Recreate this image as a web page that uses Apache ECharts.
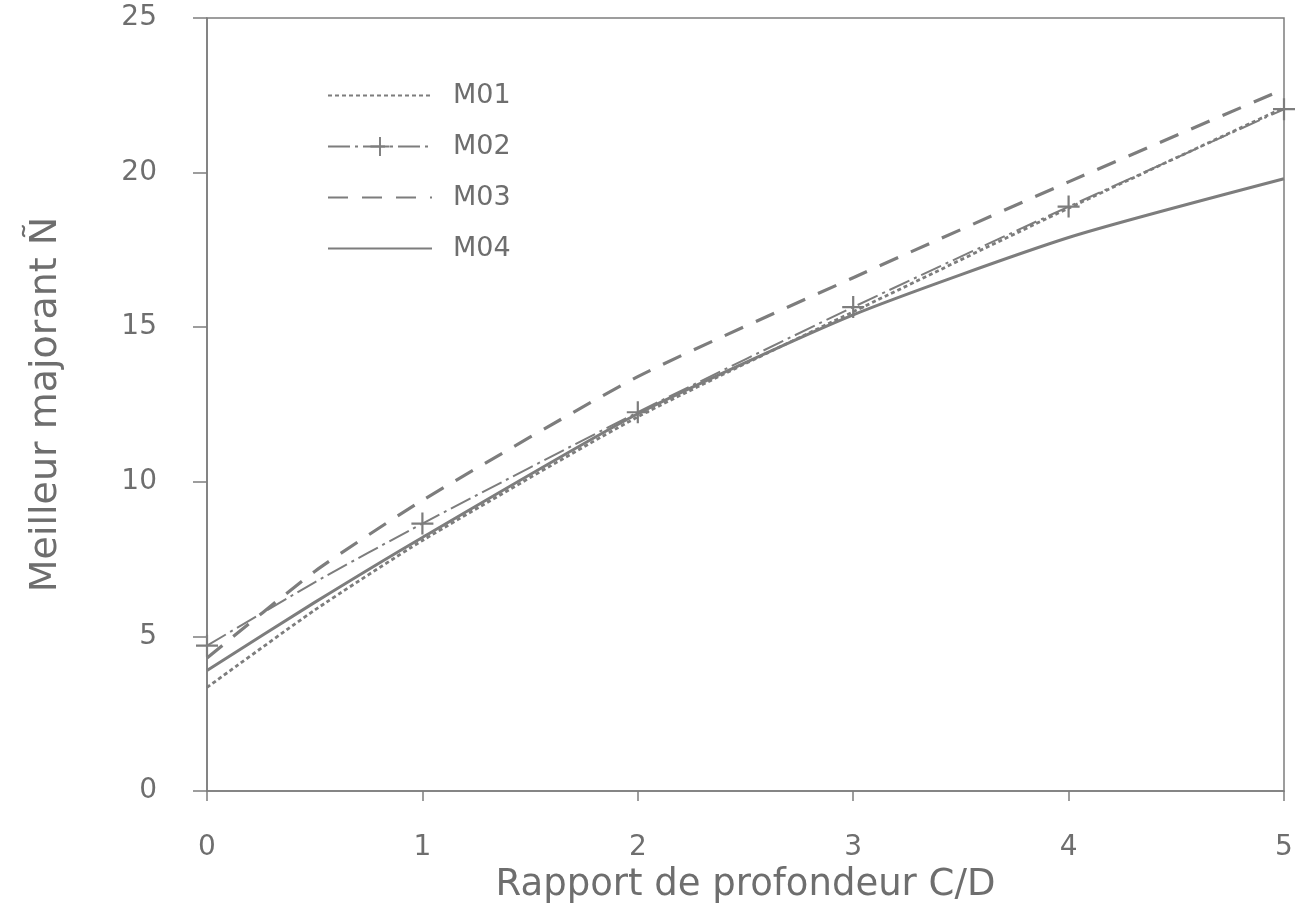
<!DOCTYPE html>
<html>
<head>
<meta charset="utf-8">
<script src="https://cdn.jsdelivr.net/npm/echarts@6/dist/echarts.min.js"></script>
<style>
  html, body { margin: 0; padding: 0; background: #fff; }
  #main { width: 1308px; height: 916px; }
</style>
</head>
<body>
<div id="main"></div>
<script>
// abscisses (rapport C/D)
var ratios = [0, 0.5, 1, 2, 3, 4, 5]
var seriesNames = ['M01', 'M02', 'M03', 'M04']
var m01 = [3.35, 5.85, 8.1, 12.1, 15.5, 18.85, 22.1]
var m02 = [4.7, 6.75, 8.65, 12.25, 15.65, 18.9, 22.05]
var m03 = [4.3, 7.1, 9.4, 13.4, 16.6, 19.7, 22.7]
var m04 = [3.9, 6.1, 8.2, 12.2, 15.4, 17.9, 19.8]
var xTicks = [0, 1, 2, 3, 4, 5]
var yTicks = [0, 5, 10, 15, 20, 25]

var grey = '#7d7d7d'
var textGrey = '#6e6e6e'
var font = 'DejaVu Sans'
// croix "+" pleine (deux barres fines)
var plus = 'path://M-1,-10 L1,-10 L1,10 L-1,10 Z M-10,-1 L10,-1 L10,1 L-10,1 Z'
var noMarker = { color: 'rgba(0,0,0,0)', borderColor: 'rgba(0,0,0,0)', borderWidth: 0 }

function pairs(ys) {
  return ratios.map(function (x, i) { return [x, ys[i]] })
}

var myChart = echarts.init(document.getElementById('main'))
myChart.setOption({
  animation: false,
  backgroundColor: '#fff',
  grid: {
    left: 207, right: 24, top: 18, bottom: 125,
    show: true, borderColor: grey, borderWidth: 1.5
  },
  legend: {
    orient: 'vertical',
    left: 322, top: 77,
    itemWidth: 104, itemHeight: 24, itemGap: 24,
    textStyle: { color: textGrey, fontSize: 27, fontFamily: font, padding: [0, 0, 0, 16] },
    data: [
      { name: seriesNames[0], itemStyle: noMarker },
      { name: seriesNames[1] },
      { name: seriesNames[2], itemStyle: noMarker },
      { name: seriesNames[3], itemStyle: noMarker }
    ]
  },
  xAxis: {
    type: 'value',
    min: xTicks[0], max: xTicks[xTicks.length - 1], interval: 1,
    name: 'Rapport de profondeur C/D',
    nameLocation: 'middle', nameGap: 74,
    nameTextStyle: { color: textGrey, fontSize: 37, fontFamily: font },
    axisLine: { lineStyle: { color: grey, width: 1.5 } },
    axisTick: { show: true, length: 10, lineStyle: { color: grey, width: 1.5 } },
    axisLabel: { color: textGrey, fontSize: 28, fontFamily: font, margin: 43 },
    splitLine: { show: false }
  },
  yAxis: {
    type: 'value',
    min: yTicks[0], max: yTicks[yTicks.length - 1], interval: 5,
    name: 'Meilleur majorant Ñ',
    nameLocation: 'middle', nameGap: 142,
    nameTextStyle: { color: textGrey, fontSize: 38, fontFamily: font },
    axisLine: { show: true, lineStyle: { color: grey, width: 1.5 } },
    axisTick: { show: true, length: 14, lineStyle: { color: grey, width: 1.5 } },
    axisLabel: { color: textGrey, fontSize: 28, fontFamily: font, margin: 50, padding: [8, 0, 0, 0] },
    splitLine: { show: false }
  },
  series: [
    {
      name: 'M01', type: 'line', data: pairs(m01), smooth: 0.2,
      symbol: 'none', color: grey,
      lineStyle: { color: grey, width: 2.8, type: [4, 3] }
    },
    {
      name: 'M02', type: 'line', smooth: 0.2, clip: false,
      symbol: plus, symbolSize: 22, color: grey,
      itemStyle: { color: grey },
      lineStyle: { color: grey, width: 2, type: [22, 5, 3, 5] },
      data: ratios.map(function (x, i) {
        // marqueurs uniquement aux abscisses entières
        return Number.isInteger(x) ? [x, m02[i]] : { value: [x, m02[i]], symbol: 'none' }
      })
    },
    {
      name: 'M03', type: 'line', data: pairs(m03), smooth: 0.2,
      symbol: 'none', color: grey,
      lineStyle: { color: grey, width: 3.2, type: [20, 14] }
    },
    {
      name: 'M04', type: 'line', data: pairs(m04), smooth: 0.2,
      symbol: 'none', color: grey,
      lineStyle: { color: grey, width: 3 }
    }
  ]
})
</script>
</body>
</html>
